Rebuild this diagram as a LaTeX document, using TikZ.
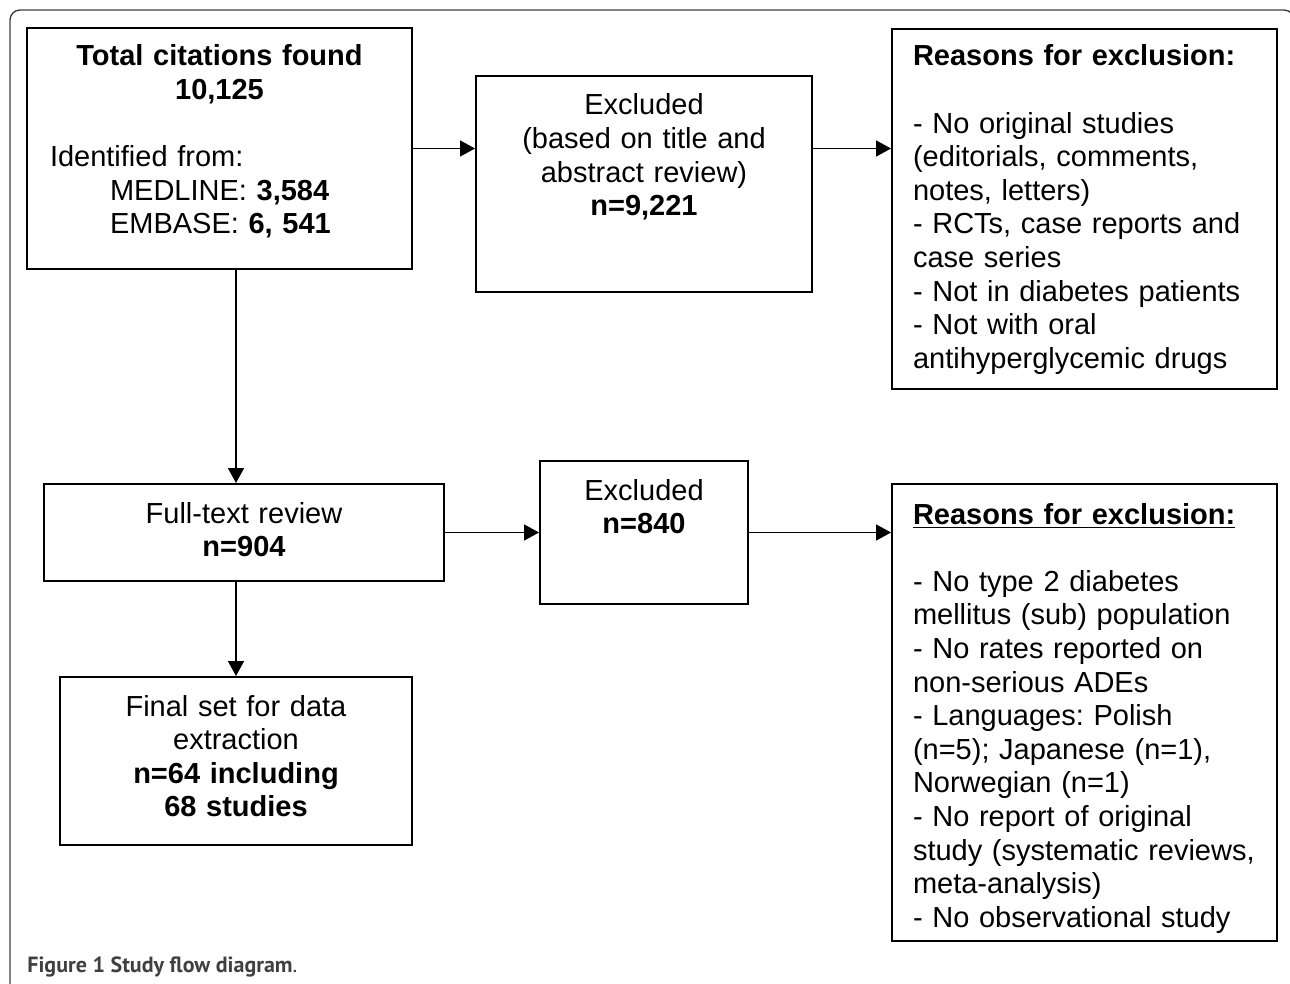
\documentclass[tikz,border=0pt]{standalone}
\usepackage{fontspec}
\setmainfont{Liberation Sans}
\newfontfamily\capfont{PT Sans}
\usepackage{tikz}
\usetikzlibrary{%
	arrows.meta,% wg. Triangle tips
	positioning,
	calc
}
\frenchspacing
\definecolor{framegray}{HTML}{404040}
\tikzstyle{box} = [draw, line width=1pt, anchor=north, inner ysep=0pt, inner xsep=5pt, font=\fontsize{14.5pt}{16.8pt}\selectfont, align=center]
\tikzstyle{reasons} = [box, inner xsep=10.5pt, text width=171.5pt, align=left]
\tikzstyle{line} = [draw, line width=0.8pt, -{Triangle[length=7.5pt,width=8pt]}]
\tikzstyle{frame} = [draw=framegray, line width=0.7pt, rounded corners=5pt]
\tikzstyle{caption} = [anchor=base west, inner sep=0pt, text=framegray, font=\capfont\fontsize{11pt}{13pt}\selectfont]

\begin{document}
\begin{tikzpicture}[x=0.5pt, y=-0.5pt]
	\useasboundingbox (0,0) rectangle (1290,984);
	
	% Outer frame and caption
	\path[frame] (10,10) rectangle (1294,996);
	\node[caption] (cap) at (27,972) {\textbf{Figure 1 Study flow diagram}.};
	
	% First we draw the boxes of the main column
	\node[box, align=left, text width=169.5pt, inner xsep=11.5pt, text height=19pt, text depth=101.5pt] (total) at (219.5,27) {%
		{\centering\bfseries Total citations found\\10,125\par}
		\vspace{16.8pt}
		Identified from:\\
		\hspace*{30pt}MEDLINE: \textbf{3,584}\\
		\hspace*{30pt}EMBASE: \textbf{6, 541}};
	\node[box, text width=190pt, text height=19.5pt, text depth=29pt] (full) at (244,483) {Full-text review\\\textbf{n=904}};
	\node[box, text width=166pt, text height=19.5pt, text depth=64.5pt] (final) at (236,676) {Final set for data\\extraction\\\textbf{n=64 including}\\\textbf{68 studies}};
	
	% Then the excluded boxes
	\node[box, text width=158pt, text height=19.5pt, text depth=88.5pt] (excl1) at (644,75) {Excluded\\(based on title and\\abstract review)\\\textbf{n=9,221}};
	\node[box, text width=94pt, text height=19.5pt, text depth=52pt] (excl2) at (644,460) {Excluded\\\textbf{n=840}};
	
	% Reasons for exclusion
	\node[reasons, text height=18.5pt, text depth=161.5pt] (why1) at (1084.5,28) {%
		\textbf{Reasons for exclusion:}\\[16.8pt]
		- No original studies\\
		(editorials, comments,\\
		notes, letters)\\
		- RCTs, case reports and\\
		case series\\
		- Not in diabetes patients\\
		- Not with oral\\
		antihyperglycemic drugs};
	\node[reasons, text height=20pt, text depth=208.5pt] (why2) at (1084.5,483) {%
		\textbf{\underline{Reasons for exclusion:}}\\[16.8pt]
		- No type 2 diabetes\\
		mellitus (sub) population\\
		- No rates reported on\\
		non-serious ADEs\\
		- Languages: Polish\\
		(n=5); Japanese (n=1),\\
		Norwegian (n=1)\\
		- No report of original\\
		study (systematic reviews,\\
		meta-analysis)\\
		- No observational study};
	
	% Connect the boxes
	\path[line] (total) -- (total -| excl1.west);
	\path[line] (excl1.east |- total) -- (why1.west |- total);
	\path[line] (total.south -| final) -- (full.north -| final);
	\path[line] (full.south -| final) -- (final);
	\path[line] (full) -- (excl2);
	\path[line] (excl2) -- (excl2 -| why2.west);
	
\end{tikzpicture}
\end{document}
